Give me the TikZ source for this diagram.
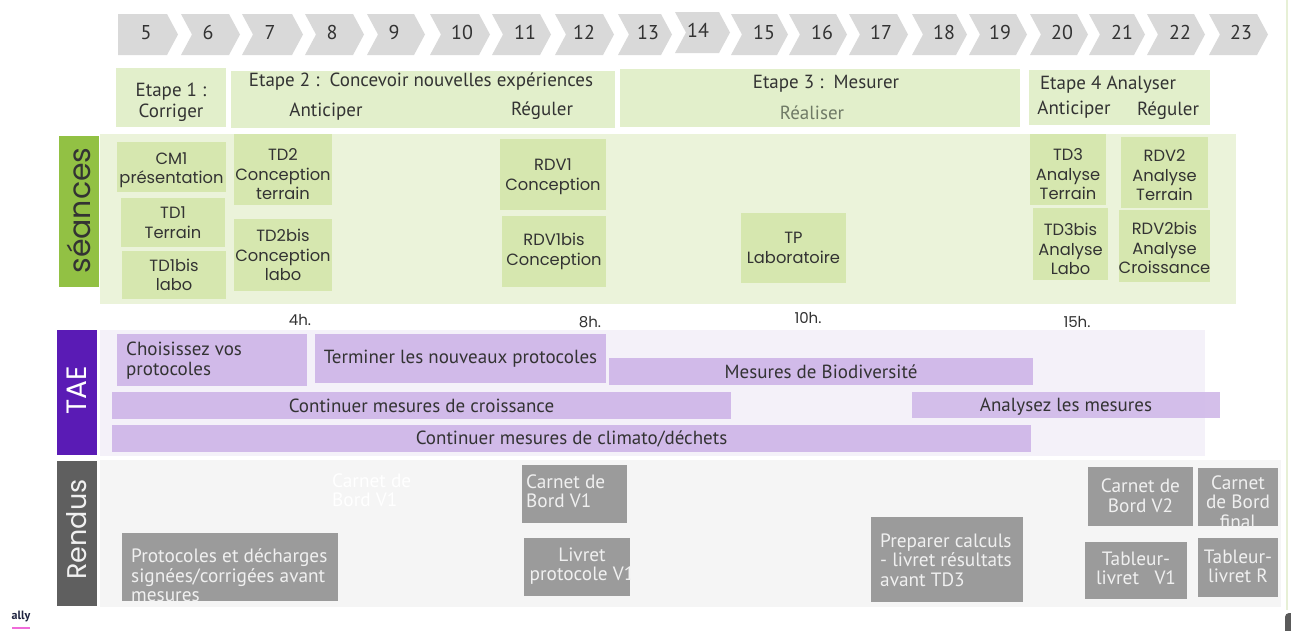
\documentclass[tikz,border=0pt]{standalone}
\usepackage{fontspec}
\setmainfont{PT Sans}
\newfontfamily\gothic{Poppins}
\definecolor{chevgray}{HTML}{D9D9D9}
\definecolor{txtdark}{HTML}{333333}
\definecolor{etapegreen}{HTML}{E2EFCB}
\definecolor{seancebg}{HTML}{EBF3DA}
\definecolor{seancebox}{HTML}{D6E7AF}
\definecolor{seancelab}{HTML}{92C144}
\definecolor{taebg}{HTML}{F4F1F9}
\definecolor{taelab}{HTML}{5A1BB5}
\definecolor{taebar}{HTML}{D1BAE9}
\definecolor{rendbg}{HTML}{F5F5F5}
\definecolor{rendlab}{HTML}{5F5F5F}
\definecolor{rendbox}{HTML}{9B9B9B}
\definecolor{rendtxt}{HTML}{F0F0F0}
\definecolor{realgray}{HTML}{6F7A66}
\definecolor{allynavy}{HTML}{1F2340}
\definecolor{allypink}{HTML}{F06AD9}
\definecolor{edgegreen}{HTML}{E7F0D6}
\definecolor{cornergray}{HTML}{5A5A5A}
\tikzset{
 rect/.style={inner sep=0pt, outer sep=0pt, draw=none},
 chevtxt/.style={font=\fontsize{20}{24}\selectfont, text=txtdark, inner sep=0pt},
 etxt/.style={font=\fontsize{19}{21}\selectfont, text=txtdark, inner sep=0pt},
 stxt/.style={font=\gothic\fontsize{16.3}{19.5}\selectfont, text=txtdark, align=center, inner sep=0pt},
 ttxt/.style={font=\fontsize{19}{19.5}\selectfont, text=txtdark, inner sep=0pt},
 rtxt/.style={font=\fontsize{19.3}{19.5}\selectfont, text=rendtxt, inner sep=0pt},
 hrs/.style={font=\gothic\fontsize{15}{16}\selectfont, text=txtdark, inner sep=0pt},
}
\newcommand\rbx[7]{\node[rect,#1,minimum width={#4-#2},minimum height={#5-#3},anchor=north west] (#6) at (#2,#3) {#7};}
% seance box: x1 y1 x2 y2 name downshift text
\newcommand\sbx[7]{\node[rect,fill=seancebox,minimum width={#3-#1},minimum height={#4-#2},anchor=north west] (#5) at (#1,#2) {};
 \node[stxt] (#5t) at ([yshift=-#6pt]#5.center) {#7};}
\newcommand\chv[6]{\fill[chevgray] (#1,#3) -- ({#2-11},#3) -- (#2,{(#3+#4)/2}) -- ({#2-11},#4) -- (#1,#4) -- ({#1+11},{(#3+#4)/2}) -- cycle;
 \node[chevtxt] (w#6) at (#5,{(#3+#4)/2-2}) {#6};}
\begin{document}
\begin{tikzpicture}[x=1pt,y=-1pt]
\useasboundingbox (0,0) rectangle (1291,630);
\fill[white] (0,0) rectangle (1291,630);
% weeks
\fill[chevgray] (118,14) -- (167,14) -- (178,34.5) -- (167,55) -- (118,55) -- cycle;
\node[chevtxt] (w5) at (146,32.5) {5};
\chv{181}{240}{14}{55}{208}{6}
\chv{242}{303}{14}{55}{270}{7}
\chv{305}{364}{14}{55}{332}{8}
\chv{367}{425}{14}{55}{394}{9}
\chv{430}{490}{14}{55}{462}{10}
\chv{492}{551}{14}{55}{525}{11}
\chv{555}{614}{14}{55}{584}{12}
\chv{618}{672}{14}{55}{648}{13}
\chv{675}{730}{12}{53}{698}{14}
\chv{731}{788}{14}{55}{764}{15}
\chv{789}{847}{14}{55}{822}{16}
\chv{849}{908}{14}{55}{881}{17}
\chv{912}{967}{14}{55}{944}{18}
\chv{969}{1027}{14}{55}{1000}{19}
\chv{1030}{1088}{14}{55}{1062}{20}
\chv{1089}{1145}{14}{55}{1122}{21}
\chv{1147}{1205}{14}{55}{1180}{22}
\chv{1209}{1268}{14}{55}{1241}{23}
% etapes
\rbx{fill=etapegreen}{116}{68}{226}{127}{e1}{}
\node[etxt, align=center] (e1t) at (171,102.5) {Etape 1 :\\Corriger};
\rbx{fill=etapegreen}{231}{71}{615}{128}{e2}{}
\node[etxt] (e2t) at (421,82) {Etape 2 :\ \ Concevoir nouvelles expériences};
\node[etxt] (e2a) at (326,112) {Anticiper};
\node[etxt] (e2r) at (542,111) {Réguler};
\rbx{fill=etapegreen}{620}{69}{1020}{127}{e3}{}
\node[etxt] (e3t) at (826,84) {Etape 3 :\ \ Mesurer};
\node[etxt, text=realgray] (e3r) at (812,113) {Réaliser};
\rbx{fill=etapegreen}{1029}{70}{1210}{125}{e4}{}
\node[etxt] (e4t) at (1108,85) {Etape 4 Analyser};
\node[etxt] (e4a) at (1074,110) {Anticiper};
\node[etxt] (e4r) at (1168,111) {Réguler};
% seances
\rbx{fill=seancebg}{100}{134}{1236}{304}{sbg}{}
\rbx{fill=seancelab}{59}{136}{99}{287}{slab}{}
\node[rotate=90, inner sep=0pt, text=txtdark, font=\gothic\fontsize{30}{30}\selectfont] (slabt) at ([yshift=1pt]slab.center) {séances};
\sbx{117}{142}{226}{192}{cm1}{3}{CM1\\présentation}
\sbx{121}{198}{225}{247}{td1}{0}{TD1\\Terrain}
\sbx{122}{251}{226}{299}{td1b}{0}{TD1bis\\labo}
\sbx{234}{134}{332}{205}{td2}{5}{TD2\\Conception\\terrain}
\sbx{234}{219}{332}{291}{td2b}{0}{TD2bis\\Conception\\labo}
\sbx{500}{139}{606}{210}{rdv1}{2}{RDV1\\Conception}
\sbx{502}{216}{606}{287}{rdv1b}{0}{RDV1bis\\Conception}
\sbx{741}{213}{846}{283}{tp}{0}{TP\\Laboratoire}
\sbx{1030}{134}{1106}{205}{td3}{5}{TD3\\Analyse\\Terrain}
\sbx{1033}{208}{1108}{280}{td3b}{5}{TD3bis\\Analyse\\Labo}
\sbx{1121}{137}{1208}{208}{rdv2}{3}{RDV2\\Analyse\\Terrain}
\sbx{1119}{210}{1210}{282}{rdv2b}{2}{RDV2bis\\Analyse\\Croissance}
\node[hrs] (h4) at (300,320) {4h.};
\node[hrs] (h8) at (590,322) {8h.};
\node[hrs] (h10) at (808,318) {10h.};
\node[hrs] (h15) at (1077,322) {15h.};
% TAE
\rbx{fill=taebg}{100}{330}{1205}{456}{tbg}{}
\rbx{fill=taelab}{57}{330}{97}{455}{tlab}{}
\node[rotate=90, inner sep=0pt, text=white, font=\gothic\fontsize{28}{28}\selectfont] (tlabt) at ([yshift=2pt]tlab.center) {TAE};
\rbx{fill=taebar}{117}{334}{307}{386}{choix}{}
\node[ttxt, align=left, anchor=west] (choixt) at (126,360.5) {Choisissez vos\\protocoles};
\rbx{fill=taebar,ttxt}{315}{334}{606}{383}{term}{Terminer les nouveaux protocoles}
\rbx{fill=taebar,ttxt}{609}{358}{1033}{385}{bio}{Mesures de Biodiversité}
\rbx{fill=taebar,ttxt}{112}{392}{731}{419}{crois}{Continuer mesures de croissance}
\rbx{fill=taebar,fill opacity=0.92}{912}{392}{1220}{418}{anal}{}
\node[ttxt] (analt) at ([yshift=-2pt]anal.center) {Analysez les mesures};
\rbx{fill=taebar,ttxt}{112}{425}{1031}{452}{clim}{Continuer mesures de climato/déchets}
% Rendus
\rbx{fill=rendbg}{100}{460}{1281}{607}{rbg}{}
\rbx{fill=rendlab}{57}{461}{97}{606}{rlab}{}
\node[rotate=90, inner sep=0pt, text=rendtxt, font=\gothic\fontsize{27}{27}\selectfont] (rlabt) at ([yshift=4pt]rlab.center) {Rendus};
\node[rtxt, text=white, align=left, anchor=west] (ghost) at (332,490) {Carnet de\\Bord V1};
\rbx{fill=rendbox}{122}{533}{338}{601}{prot}{}
\begin{scope}
\clip (prot.north west) rectangle (prot.south east);
\node[rtxt, align=left, anchor=west] (prott) at (131,575.5) {Protocoles et décharges\\signées/corrigées avant\\mesures};
\end{scope}
\rbx{fill=rendbox}{522}{465}{627}{523}{cb1}{}
\node[rtxt, align=left, anchor=west] (cb1t) at (526,491) {Carnet de\\Bord V1};
\rbx{fill=rendbox}{524}{538}{630}{596}{liv}{}
\begin{scope}
\clip (liv.north west) rectangle (liv.south east);
\node[rtxt, align=center] (livt) at (582,566) {Livret\\protocole V1};
\end{scope}
\rbx{fill=rendbox}{871}{517}{1023}{602}{prep}{}
\node[rtxt, align=left, anchor=west] (prept) at (880,560) {Preparer calculs\\- livret résultats\\avant TD3};
\rbx{fill=rendbox}{1088}{467}{1193}{526}{cb2}{}
\node[rtxt, align=center] (cb2t) at ([yshift=1pt]cb2.center) {Carnet de\\Bord V2};
\rbx{fill=rendbox}{1198}{468}{1278}{526}{cbf}{}
\begin{scope}
\clip (cbf.north west) rectangle (cbf.south east);
\node[rtxt, align=center] (cbft) at (1238,502) {Carnet\\de Bord\\final};
\end{scope}
\rbx{fill=rendbox}{1085}{542}{1187}{599}{tv1}{}
\node[rtxt, align=center] (tv1t) at ([yshift=2pt]tv1.center) {Tableur-\\livret\ \ \ V1};
\rbx{fill=rendbox}{1198}{538}{1278}{597}{tr}{}
\node[rtxt, align=center] (trt) at ([yshift=1pt]tr.center) {Tableur-\\livret R};
% page artefacts
\draw[edgegreen, line width=2pt] (1287,0) -- (1287,610);
\fill[cornergray, rounded corners=4pt] (1285,613) rectangle (1296,636);
\node[inner sep=0pt, text=allynavy, font=\bfseries\fontsize{12}{12}\selectfont] (ally) at (21,617) {ally};
\draw[allypink, line width=2pt] (12,628) -- (30,628);
\end{tikzpicture}
\end{document}
